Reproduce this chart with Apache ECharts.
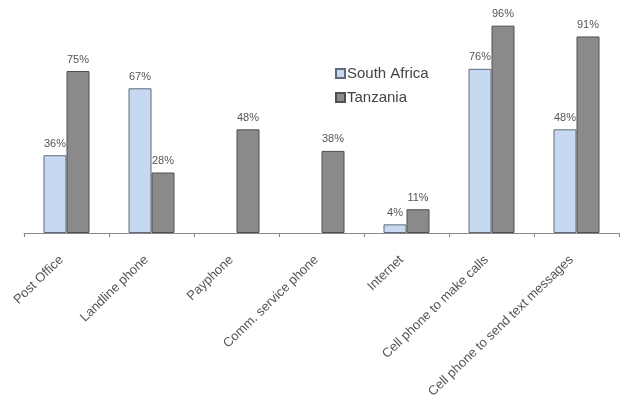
<!DOCTYPE html>
<html><head><meta charset="utf-8">
<script src="https://cdn.jsdelivr.net/npm/echarts@6/dist/echarts.min.js"></script>
<style>html,body{margin:0;padding:0;background:#fff}#c{width:620px;height:401px}</style>
</head><body><div id="c"></div>
<script>
const categories = ["Post Office","Landline phone","Payphone","Comm. service phone","Internet","Cell phone to make calls","Cell phone to send text messages"];
const southAfrica = [36, 67, null, null, 4, 76, 48];
const tanzania = [75, 28, 48, 38, 11, 96, 91];
const seriesNames = ["South Africa","Tanzania"];

const chart = echarts.init(document.getElementById('c'), null, {renderer:'canvas'});
const lbl = {show:true, position:'top', distance:6, formatter:p=>p.value==null?'':p.value+'%', color:'#555', fontFamily:'Liberation Sans, Arial', fontSize:11};
chart.setOption({
  animation:false,
  backgroundColor:'#fff',
  grid:{left:24, right:1, top:17, bottom:168},
  legend:{
    orient:'vertical', left:330, top:61, itemWidth:9, itemHeight:9, itemGap:9,
    textStyle:{fontFamily:'Liberation Sans, Arial', fontSize:15, color:'#444', padding:[0,0,0,-3]},
    data:[{name:seriesNames[0], icon:'rect'},{name:seriesNames[1], icon:'rect'}]
  },
  xAxis:{
    type:'category', data:categories,
    axisLine:{lineStyle:{color:'#888', width:1}},
    axisTick:{show:true, length:4, lineStyle:{color:'#888'}},
    axisLabel:{rotate:44, interval:0, margin:20, padding:[0,7,0,0], color:'#555', fontFamily:'Liberation Sans, Arial', fontSize:13}
  },
  yAxis:{type:'value', min:0, max:100, show:false, splitLine:{show:false}},
  series:[
    {name:seriesNames[0], type:'bar', data:southAfrica, barWidth:23, barGap:'0%',
     itemStyle:{color:'#c6d9f1', borderColor:'#5f6b7a', borderWidth:1}, label:lbl},
    {name:seriesNames[1], type:'bar', data:tanzania, barWidth:23,
     itemStyle:{color:'#8a8a8a', borderColor:'#505050', borderWidth:1}, label:lbl}
  ]
});
</script></body></html>
